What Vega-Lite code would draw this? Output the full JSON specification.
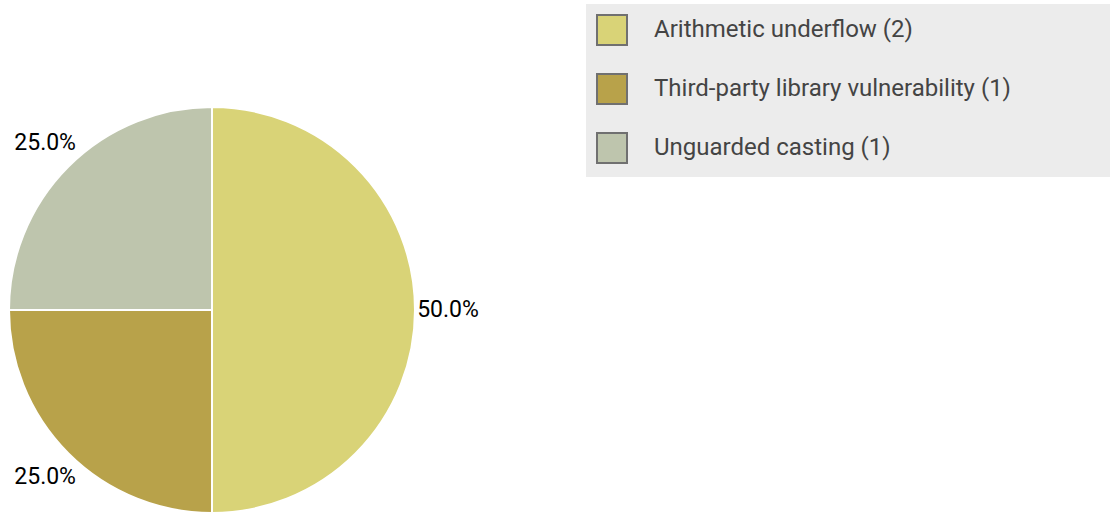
{
  "$schema": "https://vega.github.io/schema/vega-lite/v6.json",
  "autosize": {"type": "none"},
  "padding": {"left": 9, "top": 107, "right": 695, "bottom": 1},
  "width": 406,
  "height": 406,
  "background": "white",
  "config": {"view": {"stroke": null}},
  "data": {
    "values": [
      {"category": "Arithmetic underflow (2)", "count": 2, "pct": 0.5},
      {"category": "Third-party library vulnerability (1)", "count": 1, "pct": 0.25},
      {"category": "Unguarded casting (1)", "count": 1, "pct": 0.25}
    ]
  },
  "layer": [
    {
      "mark": {"type": "arc", "stroke": "white", "strokeWidth": 2},
      "encoding": {
        "theta": {"field": "count", "type": "quantitative", "stack": true},
        "order": {"field": "category", "sort": "ascending"},
        "color": {
          "field": "category",
          "type": "nominal",
          "scale": {
            "domain": ["Arithmetic underflow (2)", "Third-party library vulnerability (1)", "Unguarded casting (1)"],
            "range": ["#d9d377", "#b8a24a", "#bec5ad"]
          },
          "legend": {
            "orient": "none",
            "legendX": 577,
            "legendY": -103,
            "title": " ",
            "titleOrient": "right",
            "titlePadding": 110,
            "titleFontSize": 10,
            "fillColor": "#ececec",
            "padding": 10,
            "symbolType": "square",
            "symbolSize": 900,
            "symbolStrokeColor": "#707070",
            "symbolStrokeWidth": 2,
            "symbolOpacity": 1,
            "labelFont": "Roboto",
            "labelFontSize": 24,
            "labelColor": "#444444",
            "labelOffset": 26,
            "labelLimit": 0,
            "rowPadding": 21
          }
        }
      }
    },
    {
      "mark": {"type": "text", "radius": 236, "font": "Roboto", "fontSize": 23, "fill": "black", "align": "center", "baseline": "middle"},
      "encoding": {
        "theta": {"field": "count", "type": "quantitative", "stack": true},
        "order": {"field": "category", "sort": "ascending"},
        "detail": {"field": "category", "type": "nominal"},
        "text": {"field": "pct", "type": "quantitative", "format": ".1%"}
      }
    }
  ]
}
